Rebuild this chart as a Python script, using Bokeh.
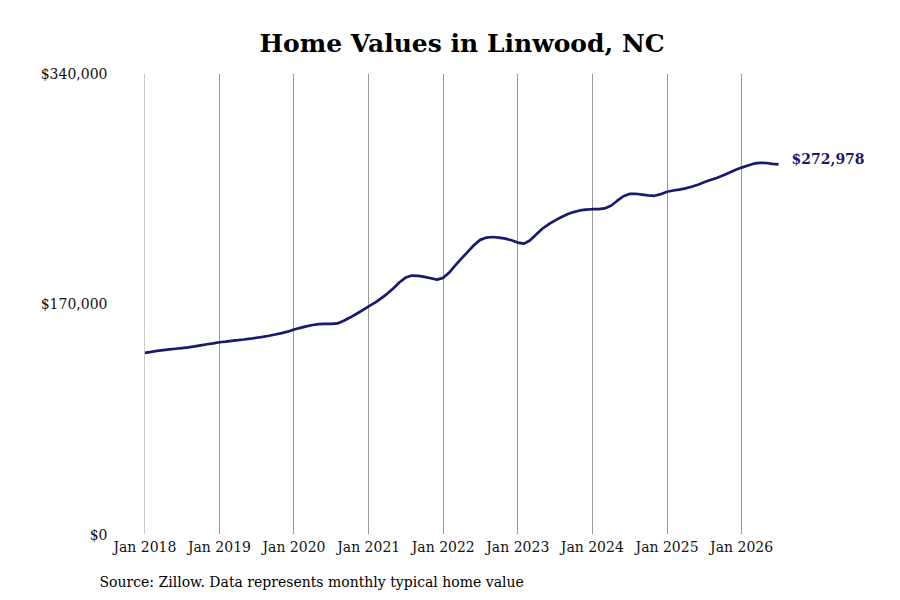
from datetime import datetime

import pandas as pd
from bokeh.embed import file_html
from bokeh.models import (ColumnDataSource, DatetimeTickFormatter, FixedTicker,
                          Label, NumeralTickFormatter, Range1d, Title)
from bokeh.plotting import figure
from bokeh.resources import INLINE

# --- data: monthly typical home value, Jan 2018 .. Jul 2026
start_month = "2018-01-01"
values_2018 = [134000, 134700, 135400, 136000, 136500, 137000, 137400, 138000, 138700, 139500, 140300, 141000]
values_2019 = [141800, 142300, 142800, 143300, 143800, 144400, 145100, 145800, 146600, 147500, 148500, 149600]
values_2020 = [151200, 152400, 153500, 154500, 155100, 155300, 155300, 155700, 157600, 160000, 162600, 165300]
values_2021 = [168200, 171000, 174000, 177500, 181500, 186000, 189500, 191000, 190800, 190000, 189000, 188000]
values_2022 = [189300, 193500, 198500, 203600, 208500, 213500, 217300, 219000, 219400, 219000, 218200, 217000]
values_2023 = [215300, 214500, 216800, 221300, 225500, 228800, 231500, 234000, 236200, 237800, 239000, 239600]
values_2024 = [239900, 240000, 240500, 242500, 246000, 249500, 251200, 251300, 250700, 250100, 249800, 251000]
values_2025 = [252800, 253700, 254400, 255300, 256500, 258000, 259800, 261400, 263000, 264800, 266800, 268900]
values_2026 = [270600, 272200, 273500, 274100, 274000, 273400, 272978]

values = (values_2018 + values_2019 + values_2020 + values_2021 + values_2022
          + values_2023 + values_2024 + values_2025 + values_2026)
dates = pd.date_range(start_month, periods=len(values), freq="MS")

tick_years = list(range(2018, 2027))
y_ticks = [0, 170000, 340000]

title_text = "Home Values in Linwood, NC"
source_text = "Source: Zillow. Data represents monthly typical home value"

NAVY = "#19196e"
FONT = "DejaVu Serif"

src = ColumnDataSource(dict(date=dates, value=values))

# x range: Jan 2018 at the left edge of the frame, frame runs on past the data
DAY = 86400000
x0 = datetime(2018, 1, 1).timestamp() * 1000
x8 = datetime(2026, 1, 1).timestamp() * 1000
x_start = x0 - 2 * DAY
x_end = x0 + (x8 - x0) * 736 / 597

p = figure(
    width=892, height=592,
    frame_width=736, frame_height=461,
    min_border_left=144, min_border_top=73, min_border_right=12, min_border_bottom=58,
    x_axis_type="datetime",
    x_range=Range1d(x_start, x_end), y_range=Range1d(0, 340000),
    toolbar_location=None, output_backend="svg",
)
p.outline_line_color = None
p.background_fill_color = "white"
p.border_fill_color = "white"

p.line("date", "value", source=src, line_color=NAVY, line_width=2.7)

last = Label(x=dates[-1], y=values[-1], text=f"${values[-1]:,}",
             x_offset=13, y_offset=5, text_baseline="middle",
             text_font=FONT, text_font_style="bold", text_font_size="14px",
             text_color=NAVY)
p.add_layout(last)

# axes
xa = p.xaxis[0]
xa.ticker = FixedTicker(ticks=[datetime(y, 1, 1).timestamp() * 1000 for y in tick_years])
fmt = "%b %Y"
xa.formatter = DatetimeTickFormatter(years=fmt, months=fmt, days=fmt, hours=fmt)
ya = p.yaxis[0]
ya.ticker = FixedTicker(ticks=y_ticks)
ya.formatter = NumeralTickFormatter(format="$0,0")

for ax in (xa, ya):
    ax.axis_line_color = None
    ax.major_tick_line_color = None
    ax.minor_tick_line_color = None
    ax.major_tick_out = 0
    ax.major_tick_in = 0
    ax.major_label_text_font = FONT
    ax.major_label_text_font_size = "14px"
    ax.major_label_text_color = "#111111"
xa.major_label_standoff = 4
ya.major_label_standoff = 37

p.xgrid.grid_line_color = "#999999"
p.xgrid.grid_line_width = 1
p.ygrid.grid_line_color = None

p.add_layout(Title(text=title_text, align="left", offset=115, standoff=32,
                   text_font=FONT, text_font_style="bold", text_font_size="25px",
                   text_color="black"), "above")
p.add_layout(Title(text=source_text, align="left", offset=-45, standoff=28,
                   text_font=FONT, text_font_style="normal", text_font_size="14px",
                   text_color="black"), "below")

open("out.html", "w").write(file_html(p, INLINE))
